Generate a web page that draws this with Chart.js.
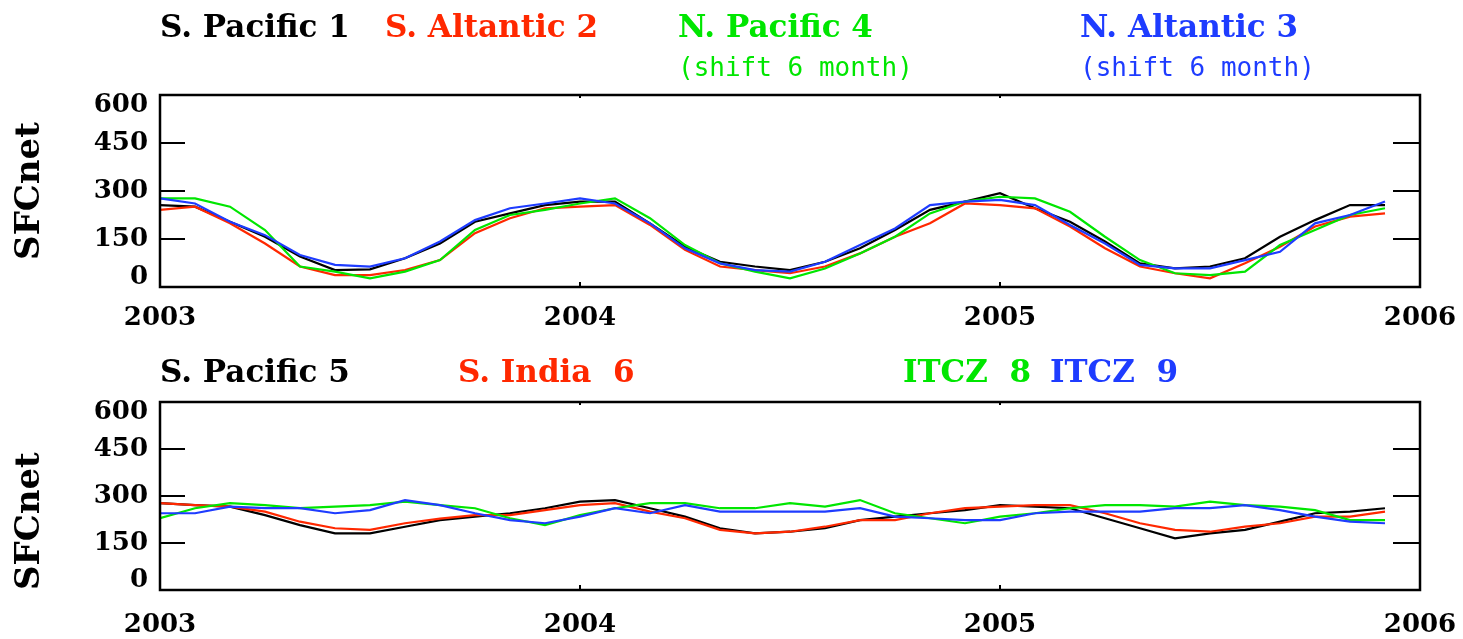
<!DOCTYPE html>
<html>
<head>
<meta charset="utf-8">
<script src="https://cdn.jsdelivr.net/npm/chart.js@4"></script>
<style>
  html, body { margin: 0; padding: 0; background: #fff; }
  #wrap { position: relative; width: 1463px; height: 639px; overflow: hidden; background: #fff; }
  canvas { position: absolute; left: 0; }
  .lbl { position: absolute; white-space: pre; font-family: 'DejaVu Serif', serif; font-weight: bold; font-size: 31px; line-height: 1; }
  .sub { font-family: 'DejaVu Sans Mono', monospace; font-weight: normal; font-size: 26px; }
  .k { color: #000; } .r { color: #ff2800; } .g { color: #00e600; } .b { color: #1e3cff; }
</style>
</head>
<body>
<div id="wrap">
  <canvas id="top" width="1463" height="330" style="top:0"></canvas>
  <canvas id="bot" width="1463" height="309" style="top:330px"></canvas>

  <div class="lbl k" style="left:160px; top:11px">S. Pacific 1</div>
  <div class="lbl r" style="left:385px; top:11px">S. Altantic 2</div>
  <div class="lbl g" style="left:678px; top:11px">N. Pacific 4</div>
  <div class="lbl sub g" style="left:678px; top:54px">(shift 6 month)</div>
  <div class="lbl b" style="left:1080px; top:11px">N. Altantic 3</div>
  <div class="lbl sub b" style="left:1080px; top:54px">(shift 6 month)</div>

  <div class="lbl k" style="left:160px; top:356px">S. Pacific 5</div>
  <div class="lbl r" style="left:458px; top:356px">S. India  6</div>
  <div class="lbl g" style="left:903px; top:356px">ITCZ  8</div>
  <div class="lbl b" style="left:1050px; top:356px">ITCZ  9</div>
</div>
<script>
// monthly values Jan 2003 .. Dec 2005
const startYear = 2003;
const yearTicks = [2003, 2004, 2005, 2006];
const valueTicks = [0, 150, 300, 450, 600];

// upper panel
const sPacific1 = [256, 251, 204, 157, 95, 53, 55, 90, 136, 204, 230, 256,
                   267, 267, 199, 126, 79, 64, 53, 79, 121, 178, 241, 267,
                   293, 246, 204, 142, 74, 58, 64, 90, 157, 209, 256, 256];
const sAltantic2 = [241, 251, 199, 136, 64, 37, 37, 53, 84, 168, 215, 246,
                    251, 256, 194, 116, 64, 53, 43, 64, 105, 157, 199, 261,
                    256, 246, 189, 121, 64, 43, 27, 74, 126, 189, 220, 230];
const nPacific4 = [277, 277, 251, 178, 64, 48, 27, 48, 84, 178, 225, 241,
                   261, 277, 215, 131, 74, 48, 27, 58, 105, 157, 230, 267,
                   282, 277, 235, 157, 84, 43, 37, 48, 131, 178, 225, 246];
const nAltantic3 = [277, 261, 204, 162, 100, 69, 64, 90, 142, 209, 246, 261,
                    277, 261, 199, 121, 74, 53, 48, 79, 131, 183, 256, 267,
                    272, 256, 194, 136, 69, 58, 58, 84, 110, 199, 225, 267];

// lower panel
const sPacific5 = [277, 271, 266, 239, 207, 181, 181, 202, 223, 234, 245, 261,
                   282, 287, 261, 234, 197, 181, 186, 197, 223, 234, 245, 255,
                   271, 266, 261, 229, 197, 165, 181, 192, 218, 245, 250, 261];
const sIndia6 = [277, 271, 266, 250, 218, 197, 192, 213, 228, 239, 239, 255,
                 271, 277, 250, 229, 192, 181, 186, 202, 223, 223, 245, 261,
                 266, 271, 271, 245, 213, 192, 186, 202, 213, 234, 234, 250];
const itcz8 = [229, 261, 277, 271, 261, 266, 271, 282, 271, 261, 229, 207,
               239, 261, 277, 277, 261, 261, 277, 266, 287, 245, 229, 213,
               234, 245, 261, 271, 271, 266, 282, 271, 266, 255, 223, 223];
const itcz9 = [245, 245, 266, 261, 261, 245, 255, 287, 271, 245, 223, 213,
               234, 261, 245, 271, 250, 250, 250, 250, 261, 234, 229, 223,
               223, 245, 250, 250, 250, 261, 261, 271, 255, 234, 218, 213];

const BLACK = '#000000', RED = '#ff2800', GREEN = '#00e600', BLUE = '#1e3cff';
const SERIF = "'DejaVu Serif', serif";

function pts(arr) {
  return arr.map((v, i) => ({ x: startYear + i / 12, y: v }));
}

function ds(label, arr, col, order) {
  return { label, data: pts(arr), borderColor: col, borderWidth: 2.2, pointRadius: 0, tension: 0, order };
}

// end labels sit inside the frame in the original, nudge them with an empty line
function yLabel(v) {
  if (v === 600) return ['', '600'];
  if (v === 0) return ['0', ''];
  return String(v);
}

// frame + inward tick marks like the original plot
const frame = {
  id: 'frame',
  afterDraw(chart) {
    const { ctx, chartArea: a, scales } = chart;
    ctx.save();
    ctx.strokeStyle = '#000';
    ctx.lineWidth = 2.5;
    ctx.strokeRect(a.left, a.top, a.right - a.left, a.bottom - a.top);
    ctx.lineWidth = 2;
    ctx.beginPath();
    valueTicks.slice(1, -1).forEach((v) => {
      const y = scales.y.getPixelForValue(v);
      ctx.moveTo(a.left, y); ctx.lineTo(a.left + 25, y);
      ctx.moveTo(a.right - 27, y); ctx.lineTo(a.right, y);
    });
    yearTicks.slice(1, -1).forEach((v) => {
      const x = scales.x.getPixelForValue(v);
      ctx.moveTo(x, a.bottom); ctx.lineTo(x, a.bottom - 5);
      ctx.moveTo(x, a.top); ctx.lineTo(x, a.top + 3);
    });
    ctx.stroke();
    ctx.restore();
  },
};

function makePanel(id, datasets, padTop, xHeight, xPad, titleAlign) {
  return new Chart(document.getElementById(id), {
    type: 'line',
    data: { datasets },
    plugins: [frame],
    options: {
      responsive: false,
      animation: false,
      layout: { padding: { top: padTop, right: 43, left: 0, bottom: 0 } },
      plugins: { legend: { display: false }, tooltip: { enabled: false } },
      scales: {
        x: {
          type: 'linear', min: 2003, max: 2006,
          afterBuildTicks: (s) => { s.ticks = yearTicks.map((v) => ({ value: v })); },
          ticks: { color: '#000', padding: xPad, maxRotation: 0, font: { family: SERIF, weight: 'bold', size: 26 },
                   callback: (v) => String(v) },
          grid: { display: false, drawTicks: false },
          border: { display: false },
          afterFit: (s) => { s.height = xHeight; s.paddingLeft = 0; s.paddingRight = 0; },
        },
        y: {
          min: 0, max: 600,
          afterBuildTicks: (s) => { s.ticks = valueTicks.map((v) => ({ value: v })); },
          ticks: { color: '#000', padding: 12, callback: yLabel,
                   font: { family: SERIF, weight: 'bold', size: 26, lineHeight: 0.75 } },
          grid: { display: false, drawTicks: false },
          border: { display: false },
          title: { display: true, text: 'SFCnet', color: '#000', align: titleAlign,
                   padding: { top: 10, bottom: 0 }, font: { family: SERIF, weight: 'bold', size: 34 } },
          afterFit: (s) => { s.width = 160; s.paddingTop = 0; s.paddingBottom = 0; },
        },
      },
    },
  });
}

makePanel('top', [
  ds('S. Pacific 1', sPacific1, BLACK, 3),
  ds('S. Altantic 2', sAltantic2, RED, 2),
  ds('N. Pacific 4', nPacific4, GREEN, 1),
  ds('N. Altantic 3', nAltantic3, BLUE, 0),
], 95, 43, 16, 'center');

makePanel('bot', [
  ds('S. Pacific 5', sPacific5, BLACK, 3),
  ds('S. India 6', sIndia6, RED, 2),
  ds('ITCZ 8', itcz8, GREEN, 1),
  ds('ITCZ 9', itcz9, BLUE, 0),
], 72, 49, 20, 'start');
</script>
</body>
</html>
